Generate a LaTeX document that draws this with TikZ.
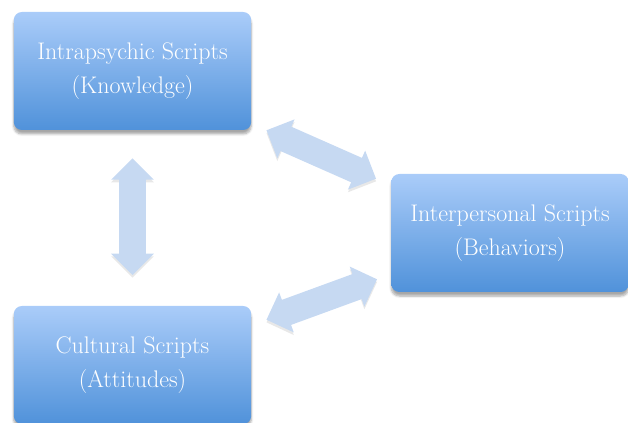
\documentclass[tikz,border=0pt]{standalone}
\usepackage{tikz}
\usepackage{xcolor}
\usetikzlibrary{arrows.meta,calc,positioning,shadows.blur}
\definecolor{boxtop}{RGB}{170,204,249}
\definecolor{boxbot}{RGB}{80,146,218}
\definecolor{arrfill}{RGB}{198,217,242}

\begin{document}
\begin{tikzpicture}[
      x=0.75pt,y=-0.75pt,
      script/.style={rounded corners=6pt,minimum width=178pt,minimum height=88.5pt,
        top color=boxtop,bottom color=boxbot,draw=none,text=white,align=center,
        font=\fontsize{18}{25}\selectfont,
        blur shadow={shadow xshift=0pt,shadow yshift=-3pt,shadow opacity=35,shadow blur steps=6}},
      link/.style={draw=arrfill,line width=20pt,
        {Triangle[width=31pt,length=16pt,fill=arrfill]}-{Triangle[width=31pt,length=16pt,fill=arrfill]},
        preaction={draw=black!60,opacity=0.15,transform canvas={yshift=-2pt}}},
    ]
    \useasboundingbox (0,0) rectangle (628,423);
    %
    \node (intra) [script] at (132.5,71) {Intrapsychic Scripts\\(Knowledge)};
    \node (inter) [script] at (510,233) {Interpersonal Scripts\\(Behaviors)};
    \node (cult) [script] at (132.5,365) {Cultural Scripts\\(Attitudes)};
    %
    \coordinate (a1) at ($(intra.south east)+(15,0)$);
    \coordinate (b1) at ($(inter.north west)+(-15,5)$);
    \coordinate (a2) at ($(cult.north east)+(15,14)$);
    \coordinate (b2) at ($(inter.south west)+(-14,-13)$);
    %
    \draw [link,shorten <=21pt,shorten >=23pt] (intra.south) -- (cult.north);
    \draw [link] (a1) -- (b1);
    \draw [link] (a2) -- (b2);
    %
  \end{tikzpicture}
\end{document}
